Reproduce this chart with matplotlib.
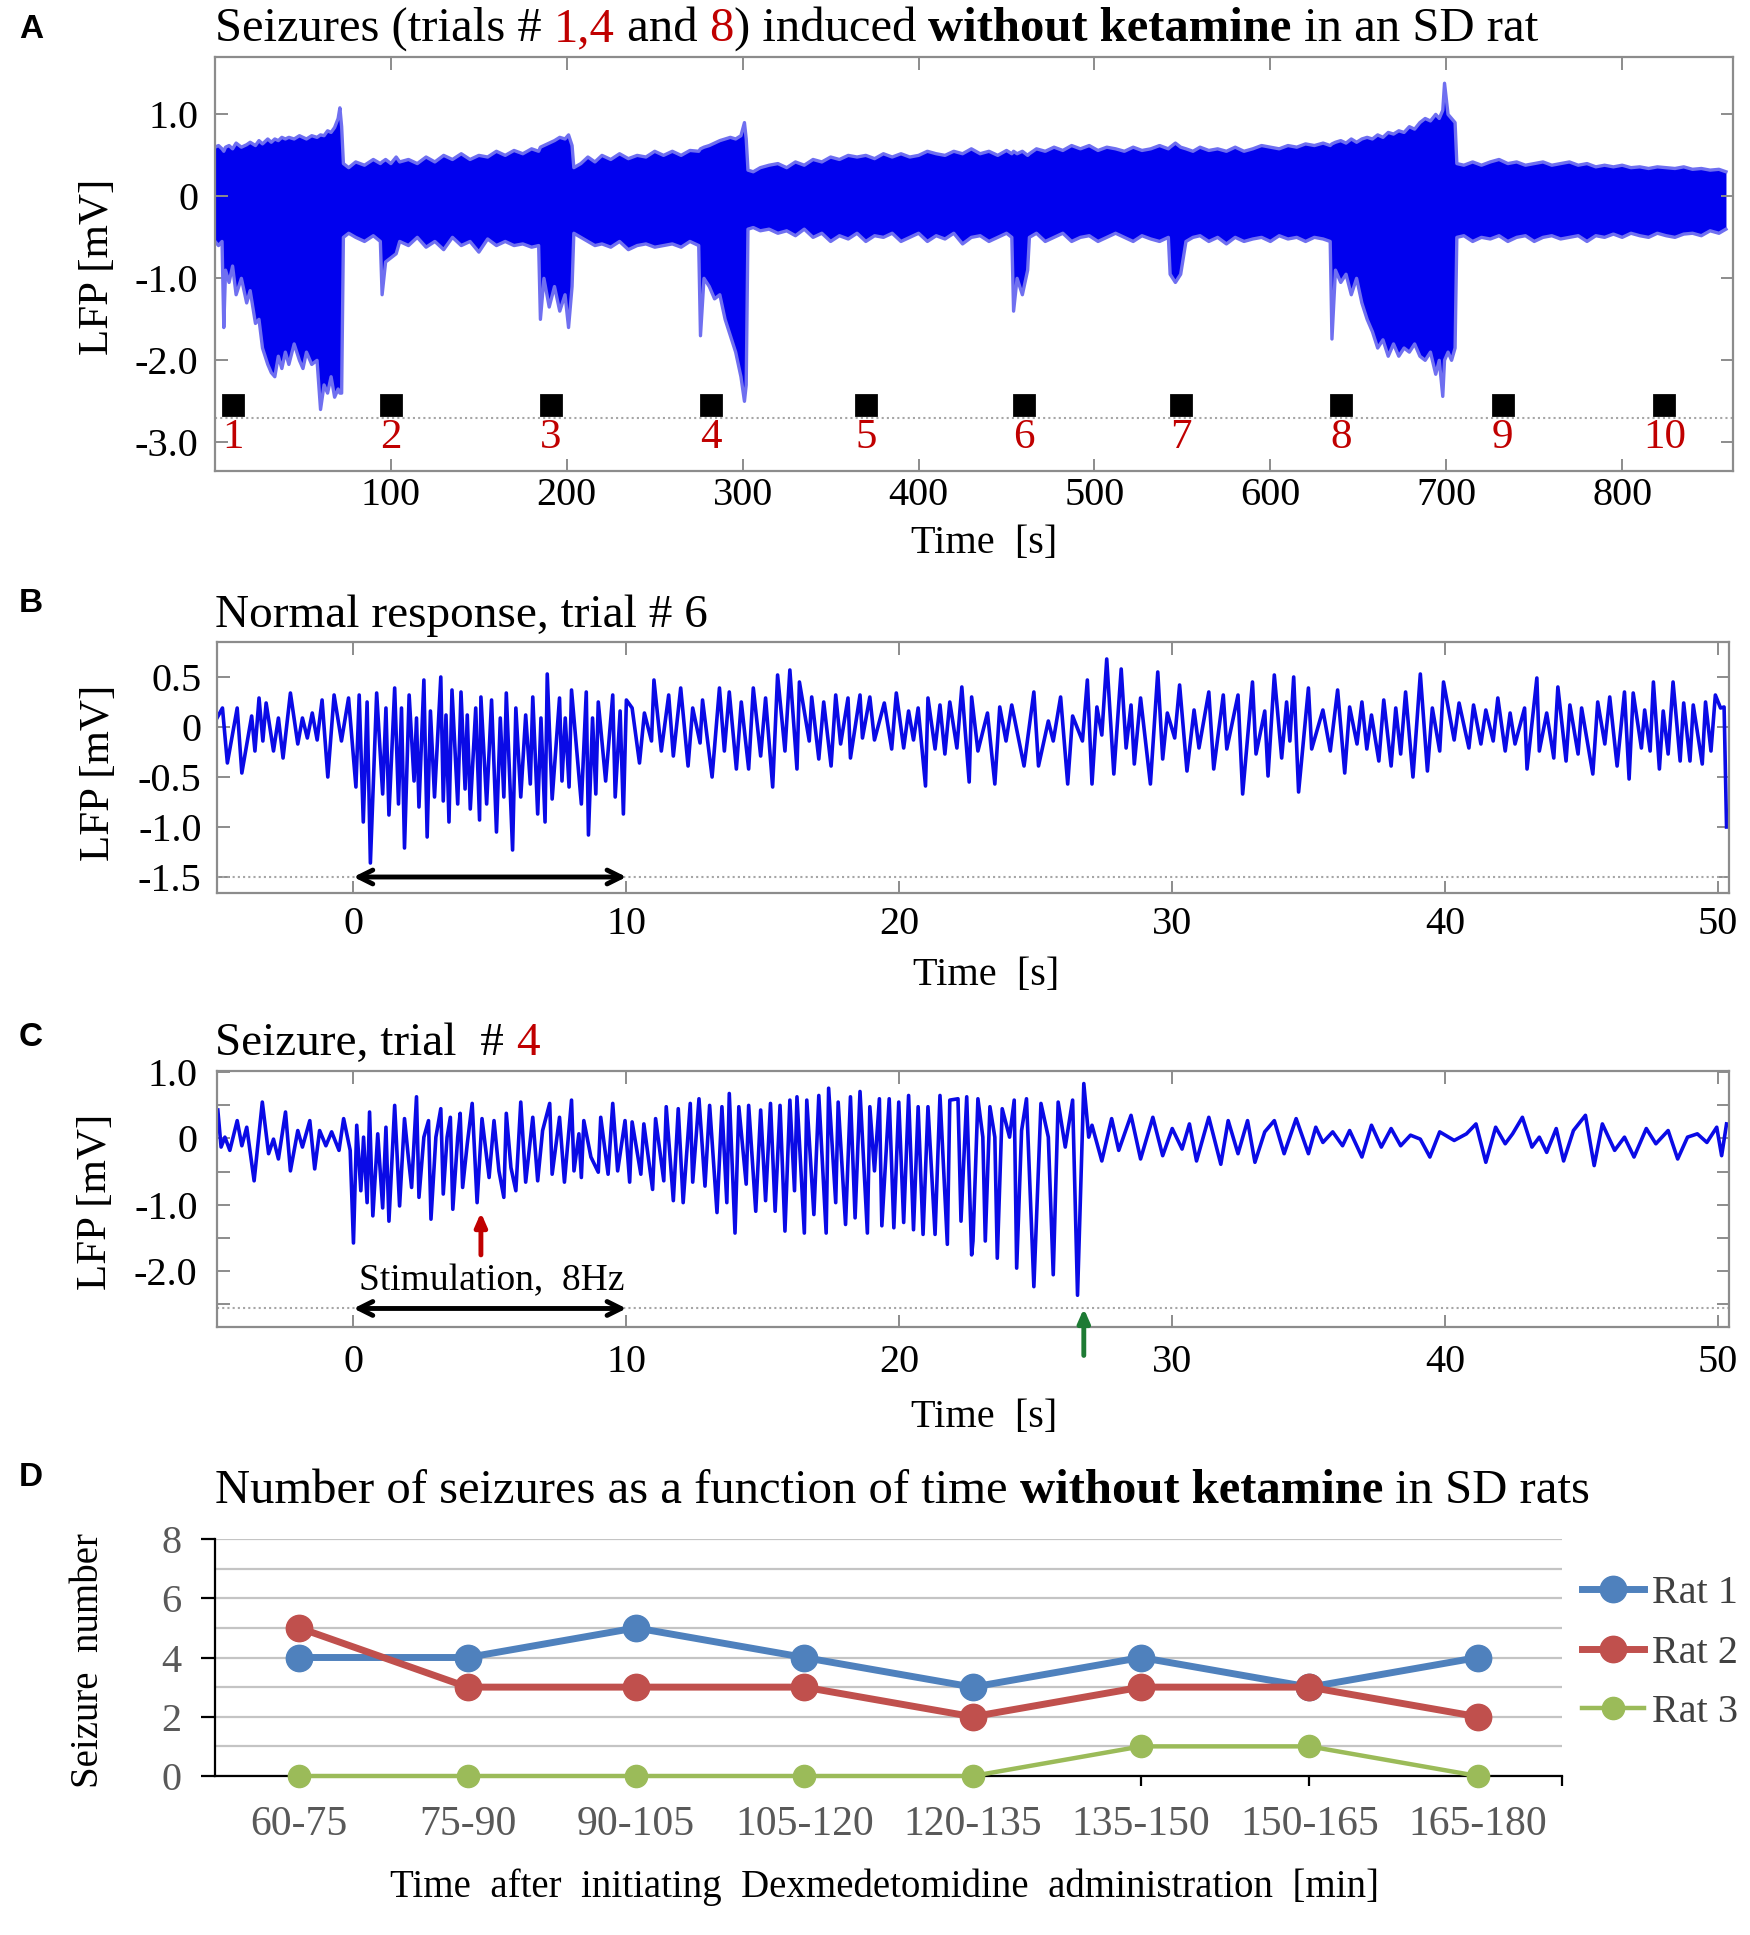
import matplotlib
matplotlib.use("Agg")
import matplotlib.pyplot as plt
from matplotlib.lines import Line2D

W, H = 1750, 1935
plt.rcParams["font.family"] = "Liberation Serif"

TRACE = "#0a0ae6"
RED = "#c00000"

# ---- panel A: envelope of the 860 s recording (upper / lower edge, mV) ----
A_T = [0, 2, 4, 5, 6, 8, 10, 12, 15, 18, 20, 23, 25, 27, 30, 32, 34, 36, 38, 40, 42, 45, 48,
       50, 52, 55, 58, 60, 62, 64, 66, 68, 70, 71, 72, 73, 76, 80, 85, 90, 94, 95, 97, 100,
       103, 105, 110, 115, 120, 125, 130, 135, 140, 145, 150, 155, 160, 165, 170, 175, 180,
       184, 185, 187, 190, 193, 196, 199, 201, 203, 204, 208, 212, 216, 220, 225, 230, 235,
       240, 245, 250, 255, 260, 265, 270, 275, 276, 278, 281, 284, 287, 290, 293, 296, 299,
       301, 302, 303, 306, 310, 315, 320, 325, 330, 335, 340, 345, 350, 355, 360, 365, 370,
       375, 380, 385, 390, 395, 400, 405, 410, 415, 420, 425, 430, 435, 440, 445, 450, 453,
       454, 456, 459, 462, 463, 467, 472, 477, 482, 487, 492, 497, 502, 507, 512, 517, 522,
       527, 532, 537, 542, 543, 546, 549, 552, 556, 560, 565, 570, 575, 580, 585, 590, 595,
       600, 605, 610, 615, 620, 625, 630, 634, 635, 637, 640, 643, 646, 649, 652, 655, 658,
       661, 664, 667, 670, 673, 676, 679, 682, 685, 688, 691, 694, 696, 698, 699, 701, 703,
       705, 706, 710, 715, 720, 725, 730, 735, 740, 745, 750, 755, 760, 765, 770, 775, 780,
       785, 790, 795, 800, 805, 810, 815, 820, 825, 830, 835, 840, 845, 850, 855, 859]
A_UP = [0.60, 0.62, 0.58, 0.55, 0.60, 0.62, 0.58, 0.65, 0.60, 0.63, 0.66, 0.62, 0.68, 0.64,
        0.70, 0.66, 0.70, 0.68, 0.72, 0.70, 0.72, 0.70, 0.74, 0.72, 0.70, 0.74, 0.72, 0.75,
        0.74, 0.80, 0.78, 0.84, 0.95, 1.08, 0.85, 0.40, 0.35, 0.42, 0.38, 0.45, 0.40, 0.42,
        0.45, 0.40, 0.48, 0.42, 0.45, 0.40, 0.48, 0.42, 0.50, 0.45, 0.52, 0.45, 0.50, 0.48,
        0.55, 0.50, 0.56, 0.52, 0.58, 0.55, 0.60, 0.62, 0.65, 0.68, 0.72, 0.70, 0.75, 0.62,
        0.35, 0.40, 0.48, 0.42, 0.50, 0.45, 0.52, 0.46, 0.50, 0.48, 0.55, 0.50, 0.55, 0.50,
        0.56, 0.55, 0.58, 0.60, 0.62, 0.65, 0.68, 0.70, 0.72, 0.70, 0.74, 0.90, 0.70, 0.32,
        0.30, 0.35, 0.38, 0.40, 0.35, 0.42, 0.38, 0.45, 0.42, 0.48, 0.45, 0.50, 0.48, 0.50,
        0.46, 0.52, 0.48, 0.52, 0.48, 0.50, 0.55, 0.52, 0.50, 0.55, 0.52, 0.58, 0.52, 0.55,
        0.50, 0.56, 0.52, 0.55, 0.52, 0.55, 0.50, 0.52, 0.58, 0.55, 0.60, 0.56, 0.62, 0.58,
        0.62, 0.56, 0.60, 0.58, 0.55, 0.60, 0.56, 0.58, 0.62, 0.58, 0.60, 0.65, 0.60, 0.58,
        0.55, 0.60, 0.56, 0.58, 0.55, 0.60, 0.55, 0.58, 0.62, 0.60, 0.58, 0.62, 0.60, 0.64,
        0.62, 0.65, 0.62, 0.64, 0.66, 0.68, 0.65, 0.70, 0.66, 0.70, 0.72, 0.70, 0.75, 0.72,
        0.78, 0.76, 0.80, 0.78, 0.85, 0.82, 0.90, 0.95, 0.92, 1.00, 0.95, 1.05, 1.38, 1.00,
        0.95, 0.90, 0.40, 0.38, 0.42, 0.38, 0.42, 0.45, 0.40, 0.42, 0.38, 0.40, 0.42, 0.38,
        0.40, 0.42, 0.38, 0.40, 0.36, 0.38, 0.36, 0.38, 0.35, 0.36, 0.34, 0.36, 0.35, 0.34,
        0.36, 0.33, 0.34, 0.32, 0.33, 0.30]
A_LO = [-0.55, -0.60, -0.55, -1.60, -0.90, -1.05, -0.85, -1.20, -1.00, -1.30, -1.15, -1.55,
        -1.50, -1.85, -2.05, -2.15, -2.20, -1.95, -2.10, -1.90, -2.05, -1.80, -2.00, -2.10,
        -1.90, -2.05, -2.00, -2.60, -2.30, -2.40, -2.20, -2.45, -2.35, -2.40, -2.40, -0.50,
        -0.45, -0.50, -0.55, -0.48, -0.55, -1.20, -0.80, -0.75, -0.70, -0.55, -0.60, -0.50,
        -0.62, -0.55, -0.65, -0.50, -0.60, -0.55, -0.68, -0.52, -0.60, -0.55, -0.60, -0.58,
        -0.62, -0.60, -1.50, -1.00, -1.35, -1.10, -1.40, -1.20, -1.60, -1.10, -0.45, -0.50,
        -0.55, -0.60, -0.58, -0.62, -0.55, -0.65, -0.60, -0.58, -0.62, -0.60, -0.58, -0.62,
        -0.55, -0.60, -1.70, -1.00, -1.10, -1.25, -1.20, -1.50, -1.70, -1.90, -2.20, -2.50,
        -2.30, -0.40, -0.38, -0.42, -0.40, -0.45, -0.42, -0.48, -0.40, -0.50, -0.45, -0.55,
        -0.48, -0.52, -0.45, -0.55, -0.48, -0.50, -0.45, -0.55, -0.50, -0.45, -0.55, -0.48,
        -0.52, -0.45, -0.58, -0.50, -0.48, -0.55, -0.50, -0.45, -0.50, -1.40, -1.00, -1.20,
        -0.90, -0.50, -0.45, -0.55, -0.50, -0.45, -0.55, -0.50, -0.48, -0.55, -0.50, -0.45,
        -0.50, -0.55, -0.48, -0.52, -0.55, -0.50, -0.95, -1.05, -0.95, -0.55, -0.50, -0.48,
        -0.55, -0.50, -0.58, -0.50, -0.55, -0.52, -0.50, -0.55, -0.48, -0.52, -0.50, -0.55,
        -0.50, -0.52, -0.55, -1.74, -0.90, -1.05, -0.95, -1.20, -1.00, -1.30, -1.50, -1.65,
        -1.85, -1.75, -1.95, -1.80, -1.95, -1.85, -1.90, -1.80, -1.95, -2.00, -1.90, -2.17,
        -2.00, -2.44, -2.00, -1.90, -2.00, -1.85, -0.50, -0.48, -0.55, -0.50, -0.52, -0.48,
        -0.55, -0.50, -0.48, -0.55, -0.50, -0.48, -0.52, -0.50, -0.48, -0.55, -0.48, -0.50,
        -0.46, -0.50, -0.45, -0.48, -0.50, -0.45, -0.48, -0.50, -0.46, -0.45, -0.48, -0.42,
        -0.45, -0.40]
TRIAL_T = [10, 100, 191, 282, 370, 460, 549, 640, 732, 824]
TRIAL_LABELS = ["1", "2", "3", "4", "5", "6", "7", "8", "9", "10"]

# ---- panel B: trial 6, alternating peaks / troughs (s, mV) ----
B_TRACE = [
    (-5.06, 0.06), (-4.80, 0.19), (-4.62, -0.36), (-4.26, 0.19), (-4.09, -0.46), (-3.73, 0.11),
    (-3.61, -0.24), (-3.46, 0.29), (-3.32, -0.14), (-3.20, 0.24), (-2.93, -0.24), (-2.75, 0.09),
    (-2.58, -0.31), (-2.31, 0.34), (-2.04, -0.17), (-1.87, 0.09), (-1.69, -0.11), (-1.51, 0.14),
    (-1.33, -0.13), (-1.15, 0.27), (-0.94, -0.50), (-0.71, 0.32), (-0.44, -0.14), (-0.18, 0.29),
    (0.09, -0.60), (0.21, 0.32), (0.36, -0.95), (0.50, 0.25), (0.62, -1.36), (0.85, 0.34),
    (1.07, -0.67), (1.19, 0.19), (1.30, -0.88), (1.51, 0.39), (1.65, -0.77), (1.76, 0.19),
    (1.87, -1.21), (2.04, 0.32), (2.22, -0.54), (2.31, 0.09), (2.40, -0.80), (2.58, 0.47),
    (2.70, -1.10), (2.82, 0.16), (2.97, -0.70), (3.20, 0.50), (3.29, -0.74), (3.39, 0.12),
    (3.50, -0.95), (3.61, 0.37), (3.82, -0.77), (3.94, 0.35), (4.09, -0.62), (4.17, 0.12),
    (4.28, -0.82), (4.48, 0.19), (4.62, -0.93), (4.67, 0.30), (4.88, -0.77), (5.06, 0.27),
    (5.24, -1.05), (5.38, 0.09), (5.51, -0.70), (5.60, 0.34), (5.83, -1.23), (5.95, 0.19),
    (6.13, -0.70), (6.31, 0.12), (6.48, -0.57), (6.57, 0.30), (6.75, -0.87), (6.87, 0.09),
    (7.02, -0.95), (7.10, 0.53), (7.28, -0.72), (7.55, 0.29), (7.64, -0.54), (7.76, 0.09),
    (7.90, -0.60), (7.99, 0.37), (8.35, -0.77), (8.53, 0.35), (8.61, -1.08), (8.76, 0.09),
    (8.88, -0.67), (8.97, 0.25), (9.24, -0.54), (9.50, 0.32), (9.59, -0.70), (9.77, 0.16),
    (9.89, -0.87), (10.00, 0.27),
    (10.21, 0.19), (10.48, -0.36), (10.66, 0.14), (10.92, -0.14), (11.01, 0.47), (11.28, -0.24),
    (11.55, 0.32), (11.72, -0.29), (11.99, 0.39), (12.26, -0.39), (12.43, 0.19), (12.70, -0.16),
    (12.79, 0.27), (13.14, -0.50), (13.41, 0.39), (13.59, -0.24), (13.77, 0.35), (14.03, -0.42),
    (14.21, 0.25), (14.48, -0.42), (14.65, 0.39), (14.92, -0.29), (15.10, 0.29), (15.36, -0.60),
    (15.54, 0.52), (15.81, -0.24), (15.99, 0.57), (16.25, -0.42), (16.34, 0.45), (16.70, -0.14),
    (16.79, 0.30), (17.05, -0.32), (17.23, 0.25), (17.50, -0.39), (17.67, 0.32), (17.85, -0.17),
    (18.12, 0.29), (18.21, -0.31), (18.56, 0.32), (18.65, -0.11), (18.92, 0.30), (19.09, -0.13),
    (19.45, 0.24), (19.72, -0.22), (19.89, 0.34), (20.16, -0.21), (20.34, 0.16), (20.52, -0.13),
    (20.69, 0.19), (20.96, -0.59), (21.05, 0.29), (21.31, -0.22), (21.49, 0.22), (21.67, -0.27),
    (21.85, 0.25), (22.11, -0.21), (22.29, 0.40), (22.56, -0.55), (22.65, 0.30),
    (22.88, -0.24), (23.23, 0.14), (23.50, -0.57), (23.68, 0.20), (23.91, -0.14), (24.12, 0.22),
    (24.57, -0.39), (24.93, 0.35), (25.10, -0.39), (25.46, 0.06), (25.64, -0.14), (25.91, 0.30),
    (26.17, -0.57), (26.35, 0.11), (26.71, -0.14), (26.89, 0.47), (27.06, -0.57), (27.24, 0.20),
    (27.42, -0.08), (27.60, 0.68), (27.86, -0.47), (28.13, 0.58), (28.31, -0.21), (28.49, 0.22),
    (28.61, -0.37), (28.84, 0.29), (29.20, -0.57), (29.47, 0.55), (29.65, -0.32), (29.82, 0.14),
    (30.09, -0.11), (30.27, 0.42), (30.54, -0.44), (30.80, 0.17), (30.98, -0.21), (31.34, 0.35),
    (31.52, -0.42), (31.87, 0.32), (32.00, -0.22), (32.41, 0.32), (32.58, -0.67), (32.94, 0.45),
    (33.07, -0.27), (33.39, 0.16), (33.51, -0.49), (33.74, 0.52), (34.01, -0.31), (34.19, 0.25),
    (34.31, -0.14), (34.45, 0.50), (34.63, -0.65), (34.99, 0.39), (35.11, -0.22), (35.52, 0.17),
    (35.79, -0.24), (36.06, 0.37), (36.32, -0.46), (36.50, 0.20), (36.77, -0.17), (36.95, 0.25),
    (37.13, -0.22), (37.30, 0.12), (37.57, -0.34), (37.75, 0.27), (38.02, -0.39), (38.19, 0.19),
    (38.37, -0.27), (38.55, 0.35), (38.82, -0.50), (39.09, 0.53), (39.35, -0.44), (39.53, 0.19),
    (39.80, -0.24), (39.94, 0.45), (40.33, -0.13), (40.51, 0.24), (40.87, -0.21), (41.04, 0.22),
    (41.31, -0.17), (41.49, 0.17), (41.76, -0.14), (41.93, 0.29), (42.20, -0.24), (42.38, 0.14),
    (42.56, -0.17), (42.91, 0.19), (43.00, -0.42), (43.36, 0.49), (43.45, -0.24), (43.72, 0.14),
    (43.98, -0.31), (44.13, 0.40), (44.43, -0.34), (44.57, 0.22), (44.87, -0.27), (45.00, 0.19),
    (45.41, -0.47), (45.59, 0.25), (45.85, -0.17), (46.03, 0.30), (46.30, -0.39), (46.57, 0.35),
    (46.74, -0.52), (46.89, 0.34), (47.19, -0.21), (47.31, 0.17), (47.51, -0.24), (47.63, 0.45),
    (47.85, -0.42), (47.99, 0.16), (48.17, -0.27), (48.35, 0.45), (48.61, -0.34), (48.74, 0.24),
    (48.97, -0.34), (49.09, 0.22), (49.42, -0.37), (49.54, 0.25), (49.74, -0.24), (49.90, 0.32),
    (50.09, 0.19), (50.22, 0.20), (50.31, -1.00),
]

# ---- panel C: trial 4 (seizure), alternating peaks / troughs (s, mV) ----
C_TRACE = [
    (-4.97, 0.43), (-4.85, -0.13), (-4.71, 0.02), (-4.53, -0.18), (-4.26, 0.27), (-4.09, -0.11),
    (-3.91, 0.17), (-3.64, -0.64), (-3.34, 0.55), (-3.11, -0.23), (-2.93, -0.01), (-2.75, -0.31),
    (-2.49, 0.40), (-2.31, -0.49), (-2.04, 0.12), (-1.87, -0.13), (-1.60, 0.27), (-1.42, -0.46),
    (-1.24, 0.12), (-1.01, -0.11), (-0.80, 0.10), (-0.53, -0.18), (-0.36, 0.30), (-0.12, -0.18),
    (0.00, -1.58), (0.12, 0.20), (0.27, -0.79), (0.37, 0.02), (0.50, -0.97), (0.59, 0.40),
    (0.71, -1.17), (0.89, 0.07), (1.07, -1.05), (1.19, 0.17), (1.30, -1.25), (1.51, 0.50),
    (1.69, -1.02), (1.87, 0.30), (2.01, -0.28), (2.13, -0.74), (2.31, 0.63), (2.40, -0.89),
    (2.58, 0.02), (2.75, 0.27), (2.84, -1.22), (3.02, 0.02), (3.20, 0.45), (3.29, -0.84),
    (3.43, 0.02), (3.55, 0.32), (3.64, -1.07), (3.82, 0.02), (3.91, 0.38), (4.00, -0.74),
    (4.17, -0.08), (4.35, 0.53), (4.53, -0.97), (4.71, 0.30), (4.97, -0.59), (5.15, 0.27),
    (5.33, -0.49), (5.51, -0.89), (5.60, 0.38), (5.77, -0.44), (5.95, -0.79), (6.13, 0.55),
    (6.31, -0.66), (6.57, 0.32), (6.75, -0.64), (6.93, 0.12), (7.19, 0.53), (7.28, -0.54),
    (7.55, 0.32), (7.73, -0.66), (7.99, 0.58), (8.08, -0.49), (8.26, 0.07), (8.35, -0.59),
    (8.44, 0.27), (8.70, -0.28), (8.97, -0.51), (9.06, 0.32), (9.33, -0.54), (9.50, 0.53),
    (9.68, -0.49), (9.95, 0.27),
    (10.12, -0.66), (10.21, 0.25), (10.53, -0.54), (10.64, 0.22), (10.96, -0.77), (11.07, 0.30),
    (11.37, -0.64), (11.46, 0.48), (11.72, -0.94), (11.90, 0.45), (12.08, -0.97), (12.34, 0.53),
    (12.43, -0.66), (12.66, 0.60), (12.88, -0.72), (13.05, 0.50), (13.32, -1.12), (13.50, 0.48),
    (13.68, -0.97), (13.77, 0.68), (13.98, -1.43), (14.12, 0.48), (14.39, -0.69), (14.48, 0.50),
    (14.74, -1.10), (14.92, 0.43), (15.10, -0.94), (15.28, 0.53), (15.45, -1.10), (15.63, 0.50),
    (15.81, -1.40), (15.99, 0.58), (16.16, -0.79), (16.25, 0.63), (16.52, -1.43), (16.61, 0.58),
    (16.87, -1.15), (17.05, 0.65), (17.32, -1.43), (17.41, 0.76), (17.67, -0.97), (17.76, 0.55),
    (18.03, -1.30), (18.21, 0.63), (18.38, -1.20), (18.56, 0.71), (18.83, -1.43), (18.92, 0.48),
    (19.09, -0.49), (19.27, 0.60), (19.36, -1.32), (19.63, 0.60), (19.80, -1.35), (19.98, 0.55),
    (20.16, -1.27), (20.34, 0.65), (20.52, -1.38), (20.69, 0.48), (20.87, -1.45), (21.05, 0.48),
    (21.31, -1.45), (21.49, 0.65), (21.76, -1.60), (21.85, 0.58), (22.15, 0.60), (22.26, -1.25),
    (22.47, 0.63), (22.65, -1.76),
    (22.70, -1.55), (22.88, 0.60), (23.06, 0.02), (23.15, -1.55), (23.32, 0.48), (23.50, 0.02),
    (23.59, -1.81), (23.77, 0.45), (24.04, 0.02), (24.21, 0.58), (24.30, -1.96), (24.48, 0.12),
    (24.66, 0.60), (24.93, -2.24), (25.19, 0.53), (25.46, 0.02), (25.64, -2.06), (25.82, 0.55),
    (26.08, -0.13), (26.35, 0.58), (26.53, -2.37), (26.76, 0.83), (26.94, 0.02), (27.06, 0.20),
    (27.42, -0.34), (27.78, 0.30), (28.04, -0.18), (28.49, 0.35), (28.84, -0.31), (29.29, 0.32),
    (29.65, -0.26), (30.00, 0.15), (30.36, -0.16), (30.63, 0.22), (30.89, -0.34), (31.34, 0.32),
    (31.78, -0.39), (32.05, 0.27), (32.41, -0.23), (32.76, 0.27), (33.03, -0.36), (33.39, 0.10),
    (33.74, 0.27), (34.10, -0.23), (34.54, 0.30), (34.99, -0.23), (35.26, 0.17), (35.52, -0.06),
    (35.88, 0.10), (36.24, -0.11), (36.50, 0.12), (36.95, -0.28), (37.30, 0.20), (37.66, -0.13),
    (38.02, 0.15), (38.37, -0.11), (38.73, 0.05), (39.09, -0.01), (39.44, -0.28), (39.80, 0.10),
    (40.33, -0.03), (40.78, 0.07), (41.13, 0.22), (41.49, -0.36), (41.85, 0.17), (42.20, -0.08),
    (42.47, 0.07), (42.83, 0.32), (43.18, -0.13), (43.45, 0.02), (43.72, -0.21), (44.07, 0.15),
    (44.34, -0.34), (44.70, 0.12), (45.14, 0.35), (45.46, -0.41), (45.76, 0.22), (46.21, -0.18),
    (46.57, 0.02), (46.92, -0.28), (47.37, 0.15), (47.72, -0.08), (48.17, 0.12), (48.52, -0.31),
    (48.88, 0.02), (49.24, 0.07), (49.59, -0.06), (49.95, 0.17), (50.13, -0.26), (50.31, 0.22),
]

# ---- panel D: seizures per 15-min window ----
D_WINDOWS = ["60-75", "75-90", "90-105", "105-120", "120-135", "135-150", "150-165", "165-180"]
RAT1 = [4, 4, 5, 4, 3, 4, 3, 4]
RAT2 = [5, 3, 3, 3, 2, 3, 3, 2]
RAT3 = [0, 0, 0, 0, 0, 1, 1, 0]
D_COLORS = ["#4f81bd", "#c0504d", "#9bbb59"]


def px_ax(fig, left, top, right, bottom):
    return fig.add_axes([left / W, 1 - bottom / H, (right - left) / W, (bottom - top) / H])


def ftext(fig, x, y, s, **kw):
    return fig.text(x / W, 1 - y / H, s, **kw)


def rich_title(fig, ax, x, y, pieces, size):
    prev = None
    for s, color, weight in pieces:
        if prev is None:
            prev = ftext(fig, x, y, s, color=color, fontweight=weight, fontsize=size,
                         va="baseline", ha="left")
        else:
            prev = ax.annotate(s, xy=(1, 0), xycoords=prev, va="bottom", ha="left", color=color,
                               fontweight=weight, fontsize=size, annotation_clip=False)


def lfp_style(ax, xpad, ypad):
    for sp in ax.spines.values():
        sp.set_color("#8c8c8c")
        sp.set_linewidth(1.6)
    ax.tick_params(which="both", direction="in", top=True, right=True, length=9, width=1.4,
                   color="#8c8c8c", labelsize=29)
    ax.tick_params(axis="x", pad=xpad)
    ax.tick_params(axis="y", pad=ypad)


fig = plt.figure(figsize=(W / 100, H / 100), dpi=100)

# ======================= A =======================
ax_a = px_ax(fig, 215, 57, 1733, 471)
ax_a.fill_between(A_T, A_LO, A_UP, color="#0000ee", lw=0)
ax_a.plot(A_T, A_UP, color="#6f6ff0", lw=2.4)
ax_a.plot(A_T, A_LO, color="#6f6ff0", lw=2.4)
ax_a.axhline(-2.70, color="#a6a6a6", lw=1.5, ls=(0, (1, 1.5)))
ax_a.plot(TRIAL_T, [-2.55] * len(TRIAL_T), "s", color="black", ms=15, mec="black", mew=2,
          mfc="black")
for t, lab in zip(TRIAL_T, TRIAL_LABELS):
    ax_a.text(t, -2.94, lab, color=RED, fontsize=31, ha="center", va="center")
ax_a.set_xlim(0, 863)
ax_a.set_ylim(-3.35, 1.70)
ax_a.set_xticks(range(100, 900, 100))
ax_a.set_yticks([-3, -2, -1, 0, 1])
ax_a.set_yticklabels(["-3.0", "-2.0", "-1.0", "0", "1.0"])
lfp_style(ax_a, 4, 12)
rich_title(fig, ax_a, 215, 41,
           [("Seizures (trials # ", "black", "normal"), ("1,4", RED, "normal"),
            (" and ", "black", "normal"), ("8", RED, "normal"),
            (") induced ", "black", "normal"), ("without ketamine", "black", "bold"),
            (" in an SD rat", "black", "normal")], 35)
ftext(fig, 984, 543, "Time  [s]", fontsize=29, ha="center", va="center")
ftext(fig, 98, 267, "LFP [mV]", fontsize=31, ha="center", va="center", rotation=90)

# ======================= B =======================
ax_b = px_ax(fig, 217, 642, 1729, 893)
bt, bv = zip(*B_TRACE)
ax_b.plot(bt, bv, color=TRACE, lw=2.6)
ax_b.axhline(-1.5, color="#a6a6a6", lw=1.5, ls=(0, (1, 1.5)))
ax_b.annotate("", xy=(0, -1.5), xytext=(10, -1.5),
              arrowprops=dict(arrowstyle="<->, head_length=1.0, head_width=0.5", lw=3.5,
                              color="black", shrinkA=0, shrinkB=0))
ax_b.set_xlim(-5.0, 50.4)
ax_b.set_ylim(-1.66, 0.85)
ax_b.set_xticks(range(0, 51, 10))
ax_b.set_yticks([-1.5, -1.0, -0.5, 0, 0.5])
ax_b.set_yticklabels(["-1.5", "-1.0", "-0.5", "0", "0.5"])
lfp_style(ax_b, 9, 11)
rich_title(fig, ax_b, 215, 627, [("Normal response, trial # 6", "black", "normal")], 34)
ftext(fig, 986, 975, "Time  [s]", fontsize=29, ha="center", va="center")
ftext(fig, 99, 773, "LFP [mV]", fontsize=31, ha="center", va="center", rotation=90)

# ======================= C =======================
ax_c = px_ax(fig, 217, 1071, 1729, 1327)
ct, cv = zip(*C_TRACE)
ax_c.plot(ct, cv, color=TRACE, lw=2.6)
ax_c.axhline(-2.57, color="#a6a6a6", lw=1.5, ls=(0, (1, 1.5)))
ax_c.annotate("", xy=(0, -2.57), xytext=(10, -2.57),
              arrowprops=dict(arrowstyle="<->, head_length=1.0, head_width=0.5", lw=3.5,
                              color="black", shrinkA=0, shrinkB=0))
ax_c.text(5.06, -2.15, "Stimulation,  8Hz", fontsize=27, ha="center", va="center")
ax_c.annotate("", xy=(4.67, -1.12), xytext=(4.67, -1.76),
              arrowprops=dict(arrowstyle="-|>, head_length=0.8, head_width=0.35", lw=3.5,
                              color=RED, shrinkA=0, shrinkB=0))
ax_c.annotate("", xy=(26.76, -2.57), xytext=(26.76, -3.28), annotation_clip=False,
              arrowprops=dict(arrowstyle="-|>, head_length=0.8, head_width=0.35", lw=3.5,
                              color="#1e7b34", shrinkA=0, shrinkB=0))
ax_c.set_xlim(-5.0, 50.4)
ax_c.set_ylim(-2.85, 1.02)
ax_c.set_xticks(range(0, 51, 10))
ax_c.set_yticks([-2, -1, 0, 1])
ax_c.set_yticklabels(["-2.0", "-1.0", "0", "1.0"])
ax_c.set_yticks([-2.5, -1.5, -0.5, 0.5], minor=True)
lfp_style(ax_c, 12, 14)
rich_title(fig, ax_c, 215, 1055,
           [("Seizure, trial  # ", "black", "normal"), ("4", RED, "normal")], 34)
ftext(fig, 984, 1417, "Time  [s]", fontsize=29, ha="center", va="center")
ftext(fig, 96, 1202, "LFP [mV]", fontsize=31, ha="center", va="center", rotation=90)

# ======================= D =======================
ax_d = px_ax(fig, 215, 1539, 1562, 1776)
xs = range(len(D_WINDOWS))
for vals, col, lw, ms, name in [(RAT1, D_COLORS[0], 5, 19, "Rat 1"),
                                (RAT2, D_COLORS[1], 5, 19, "Rat 2"),
                                (RAT3, D_COLORS[2], 3.2, 16, "Rat 3")]:
    ax_d.plot(xs, vals, color=col, lw=lw, marker="o", ms=ms, mec=col, clip_on=False,
              zorder=3, label=name)
ax_d.set_xlim(-0.5, 7.5)
ax_d.set_ylim(0, 8)
ax_d.set_yticks([0, 2, 4, 6, 8])
ax_d.set_yticks([1, 3, 5, 7], minor=True)
ax_d.set_xticks(list(xs))
ax_d.set_xticks([7.5], minor=True)
ax_d.set_xticklabels(D_WINDOWS)
ax_d.grid(axis="y", which="both", color="#c4c4c4", lw=1.6)
ax_d.set_axisbelow(True)
for side in ("top", "right"):
    ax_d.spines[side].set_visible(False)
for side in ("left", "bottom"):
    ax_d.spines[side].set_color("black")
    ax_d.spines[side].set_linewidth(1.6)
ax_d.tick_params(axis="y", which="major", direction="out", length=10, width=1.6,
                 labelsize=29, labelcolor="#595959", pad=14)
ax_d.tick_params(axis="y", which="minor", length=0)
ax_d.tick_params(axis="x", which="both", direction="out", length=7, width=1.6,
                 labelsize=30, labelcolor="#595959", pad=14)
rich_title(fig, ax_d, 215, 1503,
           [("Number of seizures as a function of time ", "black", "normal"),
            ("without ketamine", "black", "bold"), (" in SD rats", "black", "normal")], 35)
ftext(fig, 884, 1887, "Time  after  initiating  Dexmedetomidine  administration  [min]",
      fontsize=28, ha="center", va="center")
ftext(fig, 88, 1661, "Seizure  number", fontsize=28, ha="center", va="center", rotation=90)
handles = [Line2D([], [], color=D_COLORS[0], lw=5, marker="o", ms=19),
           Line2D([], [], color=D_COLORS[1], lw=5, marker="o", ms=19),
           Line2D([], [], color=D_COLORS[2], lw=3.2, marker="o", ms=16)]
fig.legend(handles, ["Rat 1", "Rat 2", "Rat 3"], loc="center left",
           bbox_to_anchor=(1582 / W, 1 - 1653 / H), frameon=False, fontsize=29,
           handlelength=1.55, handletextpad=0.2, labelspacing=0.55, borderpad=0,
           borderaxespad=0, labelcolor="#404040")

# panel letters
for lab, y in [("A", 30), ("B", 603), ("C", 1037), ("D", 1477)]:
    ftext(fig, 31, y, lab, family="Liberation Sans", fontweight="bold", fontsize=24,
          ha="center", va="center")

fig.savefig("out.png", dpi=100)
